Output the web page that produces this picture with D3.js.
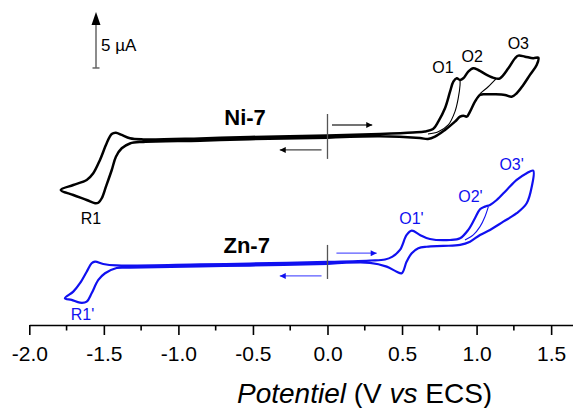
<!DOCTYPE html>
<html>
<head>
<meta charset="utf-8">
<script src="https://cdn.jsdelivr.net/npm/d3@7"></script>
<style>
  body { margin: 0; background: #fff; }
  svg { font-family: "Liberation Sans", Arial, sans-serif; }
</style>
</head>
<body>
<div id="chart"></div>
<script>
// Cyclic voltammograms, potential in V vs ECS, current in µA
// (each curve has its own zero, the curves are stacked with an offset)

// Ni-7 : full cycle, starting at 0 V towards negative potentials
const niPotential = [0.000, -0.520, -0.855, -1.235, -1.325, -1.380, -1.419, -1.447, -1.486, -1.514, -1.537, -1.559, -1.615, -1.705, -1.789,
  -1.705, -1.615, -1.571, -1.526, -1.481, -1.447, -1.419, -1.380, -1.325, -1.235, -0.855, -0.520, 0.000, 0.352, 0.573, 0.654, 0.708,
  0.743, 0.788, 0.822, 0.844, 0.867, 0.889, 0.911, 0.944, 0.978, 1.011, 1.068, 1.123, 1.157, 1.213, 1.258, 1.280, 1.325, 1.380, 1.414,
  1.403, 1.358, 1.313, 1.269, 1.235, 1.190, 1.123, 1.056, 1.023, 0.989, 0.956, 0.934, 0.911, 0.889, 0.855, 0.788, 0.721, 0.674, 0.620,
  0.352, 0.000];
const niCurrent = [-0.07, -0.20, -0.33, -0.44, -0.58, -1.01, -1.76, -2.95, -4.44, -5.47, -5.87, -5.92, -5.63, -5.18, -4.73,
  -4.29, -3.84, -3.24, -2.05, -0.56, 0.27, 0.38, 0.18, -0.12, -0.22, -0.13, 0.00, 0.13, 0.27, 0.40, 0.49, 0.71,
  1.37, 2.56, 4.04, 4.94, 5.24, 5.09, 5.24, 5.83, 6.13, 5.98, 5.54, 5.24, 5.24, 6.13, 7.03, 7.26, 7.17, 7.03, 7.08,
  6.43, 5.54, 4.64, 3.90, 3.60, 3.75, 3.81, 3.81, 3.75, 3.15, 2.26, 1.81, 1.90, 1.81, 1.37, 0.63, 0.03, -0.18, -0.10,
  0.06, -0.07];
// Ni-7 : scans reversed after O1 and after O2
const niRev1Potential = [0.889, 0.889, 0.877, 0.855, 0.810, 0.743, 0.674];
const niRev1Current = [5.09, 4.64, 3.46, 2.26, 1.07, 0.47, 0.27];
const niRev2Potential = [1.130, 1.076, 1.029, 1.003, 0.989];
const niRev2Current = [5.18, 4.46, 3.93, 3.48, 3.15];

// Zn-7 : full cycle
const znPotential = [0.000, -0.520, -0.855, -1.325, -1.414, -1.492, -1.537, -1.582, -1.615, -1.660, -1.716, -1.761,
  -1.705, -1.660, -1.615, -1.582, -1.559, -1.504, -1.414, -0.855, -0.520, 0.000, 0.285, 0.386, 0.433, 0.486, 0.531,
  0.565, 0.620, 0.687, 0.822, 0.889, 0.944, 0.989, 1.023, 1.056, 1.090, 1.135, 1.202, 1.269, 1.336, 1.380,
  1.370, 1.336, 1.269, 1.179, 1.090, 1.023, 0.956, 0.889, 0.777, 0.665, 0.609, 0.565, 0.531, 0.498, 0.464, 0.397,
  0.285, 0.000];
const znCurrent = [0.00, -0.14, -0.22, -0.33, -0.36, -0.83, -1.43, -2.62, -3.37, -3.46, -3.21, -3.06,
  -2.47, -1.72, -0.69, 0.06, 0.21, 0.00, -0.13, -0.04, 0.04, 0.18, 0.31, 0.40, 0.63, 1.25, 2.59,
  2.97, 2.59, 2.23, 2.14, 2.29, 3.04, 4.08, 4.88, 5.12, 5.27, 5.71, 6.61, 7.50, 8.10, 8.33,
  6.90, 5.42, 4.53, 3.78, 3.04, 2.59, 1.99, 1.70, 1.61, 1.54, 1.40, 0.96, 0.21, -0.83, -0.69, -0.24,
  0.10, 0.00];
const znRevPotential = [1.079, 1.056, 1.023, 0.978, 0.922];
const znRevCurrent = [5.12, 4.22, 3.33, 2.59, 2.14];

// peak labels
const niPeaks = ["O1", "O2", "O3", "R1"];
const niPeakPotential = [0.775, 0.971, 1.280, -1.586];
const niPeakCurrent = [5.69, 6.72, 7.83, -7.77];
const znPeaks = ["O1'", "O2'", "O3'", "R1'"];
const znPeakPotential = [0.563, 0.959, 1.235, -1.643];
const znPeakCurrent = [3.57, 5.56, 8.39, -5.00];

const xTicks = [-2.0, -1.5, -1.0, -0.5, 0.0, 0.5, 1.0, 1.5];
const xMinorTicks = [-1.75, -1.25, -0.75, -0.25, 0.25, 0.75, 1.25];

const niOffset = 16.79;  // stacking offset in µA
const znOffset = 5.45;
const scaleBarValue = 5; // µA

const width = 573;
const height = 408;
const axisY = 325;

const svg = d3.select("#chart")
  .append("svg")
  .attr("width", width)
  .attr("height", height);

const defs = svg.append("defs");
function addHead(id, color) {
  defs.append("marker")
    .attr("id", id)
    .attr("viewBox", "0 0 10 10")
    .attr("refX", 10).attr("refY", 5)
    .attr("markerWidth", 11).attr("markerHeight", 6)
    .attr("markerUnits", "userSpaceOnUse")
    .attr("orient", "auto")
    .append("path")
    .attr("d", "M0,0 L10,5 L0,10 Z")
    .attr("fill", color);
}
addHead("headBlack", "#000");
addHead("headBlue", "#1010f0");

const x = d3.scaleLinear().domain([-2.0, 1.65]).range([29.3, 573.5]);
const y = d3.scaleLinear().domain([0, 29.02]).range([axisY, 0]);

// x axis
const xAxis = svg.append("g")
  .attr("transform", `translate(0,${axisY})`)
  .call(d3.axisBottom(x).tickValues(xTicks).tickSize(10).tickSizeOuter(0)
    .tickFormat(d => d.toFixed(1)));
xAxis.select(".domain").attr("stroke-width", 1.6);
xAxis.selectAll(".tick line").attr("stroke-width", 1.6);
xAxis.selectAll(".tick text")
  .attr("y", 21)
  .attr("font-size", "21px")
  .attr("font-family", "Liberation Sans, Arial, sans-serif");

svg.append("g")
  .attr("transform", `translate(0,${axisY})`)
  .selectAll("line")
  .data(xMinorTicks)
  .join("line")
  .attr("x1", d => x(d)).attr("x2", d => x(d))
  .attr("y1", 0).attr("y2", 5.5)
  .attr("stroke", "#000").attr("stroke-width", 1.6);

const title = svg.append("text")
  .attr("x", 364.6).attr("y", 403)
  .attr("text-anchor", "middle")
  .attr("font-size", "28px");
title.append("tspan").attr("font-style", "italic").text("Potentiel");
title.append("tspan").text(" (V ");
title.append("tspan").attr("font-style", "italic").text("vs");
title.append("tspan").text(" ECS)");

// curves
const line = d3.line()
  .x(d => x(d[0]))
  .y(d => y(d[1]))
  .curve(d3.curveCatmullRom.alpha(0.5));

function drawCurve(pot, cur, offset, color, w) {
  svg.append("path")
    .datum(pot.map((p, i) => [p, cur[i] + offset]))
    .attr("d", line)
    .attr("fill", "none")
    .attr("stroke", color)
    .attr("stroke-width", w)
    .attr("stroke-linejoin", "round");
}

drawCurve(niPotential, niCurrent, niOffset, "#000", 2.5);
drawCurve(niRev1Potential, niRev1Current, niOffset, "#000", 1.1);
drawCurve(niRev2Potential, niRev2Current, niOffset, "#000", 1.1);
drawCurve(znPotential, znCurrent, znOffset, "#1010f0", 2.2);
drawCurve(znRevPotential, znRevCurrent, znOffset, "#1010f0", 1.1);

// start markers and scan direction arrows
function scanMarks(offset, top, bottom, upper, lower, lineColor, head) {
  svg.append("line")
    .attr("x1", x(0)).attr("x2", x(0))
    .attr("y1", y(offset + top)).attr("y2", y(offset + bottom))
    .attr("stroke", "#555").attr("stroke-width", 1.3);
  svg.append("line")
    .attr("x1", x(0.03 + upper[0])).attr("x2", x(0.30 + upper[0]))
    .attr("y1", y(offset + upper[1])).attr("y2", y(offset + upper[1]))
    .attr("stroke", lineColor).attr("stroke-width", 1.3)
    .attr("marker-end", `url(#${head})`);
  svg.append("line")
    .attr("x1", x(-0.04)).attr("x2", x(-0.32))
    .attr("y1", y(offset + lower)).attr("y2", y(offset + lower))
    .attr("stroke", lineColor).attr("stroke-width", 1.3)
    .attr("marker-end", `url(#${head})`);
}
scanMarks(niOffset, 2.05, -1.96, [0, 1.07], -1.16, "#444", "headBlack");
scanMarks(znOffset, 1.70, -1.34, [0.03, 0.96], -1.07, "#5a5aff", "headBlue");

// compound names
svg.append("text")
  .attr("x", x(-0.553)).attr("y", y(niOffset + 1.07))
  .attr("text-anchor", "middle").attr("font-size", "22px").attr("font-weight", "bold")
  .text("Ni-7");
svg.append("text")
  .attr("x", x(-0.542)).attr("y", y(znOffset + 0.98))
  .attr("text-anchor", "middle").attr("font-size", "22px").attr("font-weight", "bold")
  .text("Zn-7");

// peak labels
svg.append("g").selectAll("text")
  .data(niPeaks)
  .join("text")
  .attr("x", (d, i) => x(niPeakPotential[i]))
  .attr("y", (d, i) => y(niPeakCurrent[i] + niOffset))
  .attr("text-anchor", "middle").attr("font-size", "16px")
  .text(d => d);
svg.append("g").selectAll("text")
  .data(znPeaks)
  .join("text")
  .attr("x", (d, i) => x(znPeakPotential[i]))
  .attr("y", (d, i) => y(znPeakCurrent[i] + znOffset))
  .attr("text-anchor", "middle").attr("font-size", "16px")
  .attr("fill", "#1010f0")
  .text(d => d);

// current scale bar
const barX = 96;
const barBottom = y(22.95);
const barTop = y(22.95 + scaleBarValue);
svg.append("line")
  .attr("x1", barX).attr("x2", barX)
  .attr("y1", barBottom).attr("y2", barTop + 12)
  .attr("stroke", "#666").attr("stroke-width", 1.5);
svg.append("path")
  .attr("d", `M${barX},${barTop} L${barX - 4.5},${barTop + 13} L${barX + 4.5},${barTop + 13} Z`)
  .attr("fill", "#000");
svg.append("line")
  .attr("x1", barX - 3.5).attr("x2", barX + 3.5)
  .attr("y1", barBottom).attr("y2", barBottom)
  .attr("stroke", "#666").attr("stroke-width", 1.5);
svg.append("text")
  .attr("x", barX + 5).attr("y", barBottom - 17)
  .attr("font-size", "17px")
  .text(scaleBarValue + " µA");
</script>
</body>
</html>
